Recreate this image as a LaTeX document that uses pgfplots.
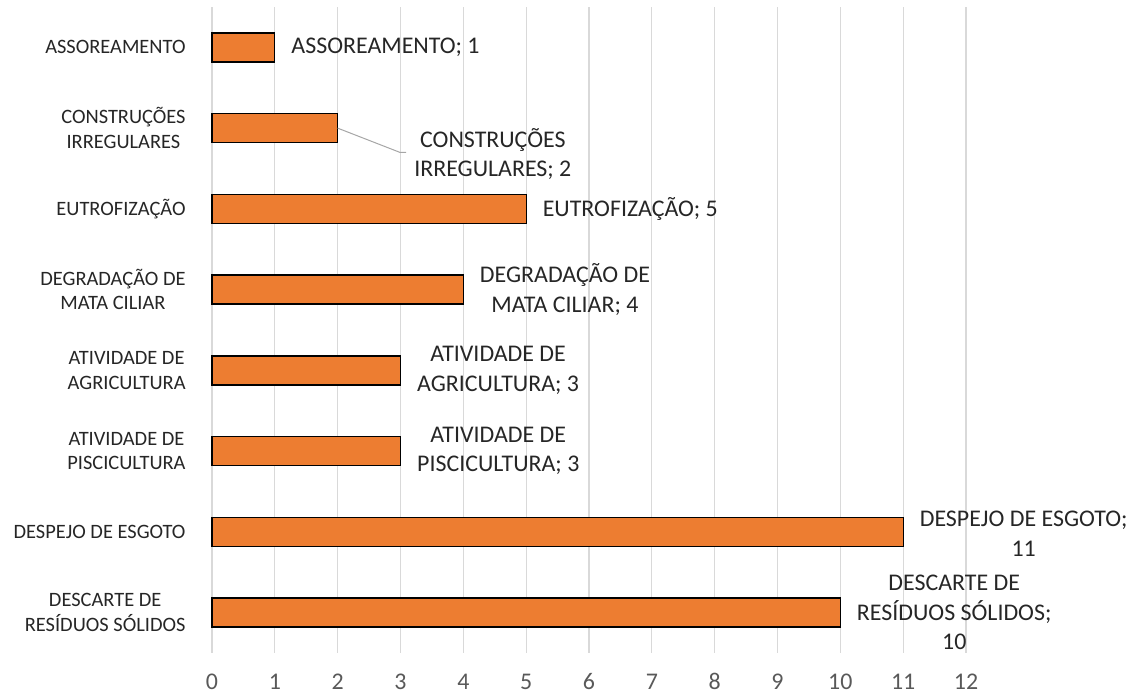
\documentclass[border=0pt]{standalone}
\usepackage{pgfplots}
\pgfplotsset{compat=1.18}
\usepackage{pgfplotstable}
\usepackage{fontspec}
\setmainfont{Carlito}
\definecolor{barorange}{HTML}{ED7D31}
\definecolor{gridgray}{HTML}{D9D9D9}
\definecolor{tickgray}{HTML}{595959}
\definecolor{txt}{HTML}{262626}
\definecolor{leader}{HTML}{A6A6A6}

\pgfplotstableread[col sep=comma]{
y,x,dx,dy,label
0,1,16,0,ASSOREAMENTO; 1
1,2,76,-26,CONSTRUÇÕES\\IRREGULARES; 2
2,5,16,0,EUTROFIZAÇÃO; 5
3,4,16,0,DEGRADAÇÃO DE\\MATA CILIAR; 4
4,3,16,0,ATIVIDADE DE\\AGRICULTURA; 3
5,3,16,0,ATIVIDADE DE\\PISCICULTURA; 3
6,11,16,-2,DESPEJO DE ESGOTO;\\11
7,10,16,0,DESCARTE DE\\RESÍDUOS SÓLIDOS;\\10
}\datatable

\begin{document}
\begin{tikzpicture}
\useasboundingbox (-212bp,-41bp) rectangle (924bp,653bp);
\begin{axis}[
  at={(0,0)}, anchor=south west,
  scale only axis, width=754bp, height=646bp,
  xbar, bar width=29bp,
  xmin=0, xmax=12, ymin=-0.5, ymax=7.5, y dir=reverse,
  xtick={0,...,12}, ytick={0,...,7},
  yticklabels={ASSOREAMENTO,{CONSTRUÇÕES\\IRREGULARES},EUTROFIZAÇÃO,{DEGRADAÇÃO DE\\MATA CILIAR},{ATIVIDADE DE\\AGRICULTURA},{ATIVIDADE DE\\PISCICULTURA},DESPEJO DE ESGOTO,{DESCARTE DE\\RESÍDUOS SÓLIDOS}},
  xmajorgrids, major grid style={gridgray, line width=1.3bp},
  axis line style={draw=none}, tick style={draw=none},
  clip=false,
  /pgf/number format/assume math mode=true,
  xticklabel style={font=\fontsize{24}{28}\selectfont, text=tickgray, inner sep=0pt, anchor=base, yshift=-36.5bp},
  yticklabel style={font=\fontsize{20.5}{24.5}\selectfont, text=txt, align=center, inner sep=0pt, anchor=east, xshift=-22bp},
  nodes near coords, point meta=explicit symbolic,
  visualization depends on={\thisrow{dx}\as\dx},
  visualization depends on={\thisrow{dy}\as\dy},
  nodes near coords style={anchor=west, inner sep=0pt, align=center, font=\fontsize{24}{29.5}\selectfont, text=txt, xshift=\dx bp, yshift=\dy bp},
]
\addplot[fill=barorange, draw=black, line width=1.3bp] table[x=x, y=y, meta=label] {\datatable};
\draw[leader, line width=1bp] (axis cs:2,1) -- (axis cs:2.99,1.30) -- (axis cs:3.09,1.30);
\end{axis}
\end{tikzpicture}
\end{document}
